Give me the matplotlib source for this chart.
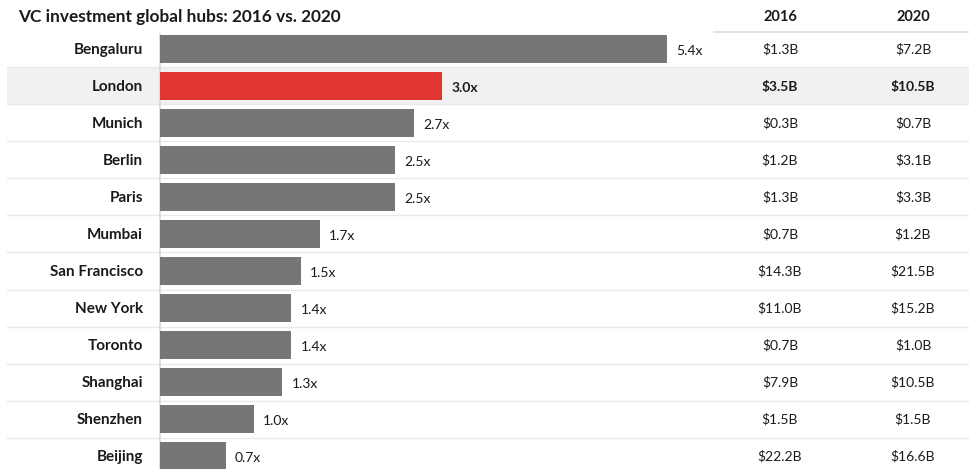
import matplotlib
matplotlib.use("Agg")
import matplotlib.pyplot as plt
from matplotlib.transforms import blended_transform_factory

plt.rcParams['font.family'] = ['Lato', 'DejaVu Sans']

cities = ["Bengaluru", "London", "Munich", "Berlin", "Paris", "Mumbai",
          "San Francisco", "New York", "Toronto", "Shanghai", "Shenzhen", "Beijing"]
growth = [5.4, 3.0, 2.7, 2.5, 2.5, 1.7, 1.5, 1.4, 1.4, 1.3, 1.0, 0.7]
inv_2016 = ["$1.3B", "$3.5B", "$0.3B", "$1.2B", "$1.3B", "$0.7B",
            "$14.3B", "$11.0B", "$0.7B", "$7.9B", "$1.5B", "$22.2B"]
inv_2020 = ["$7.2B", "$10.5B", "$0.7B", "$3.1B", "$3.3B", "$1.2B",
            "$21.5B", "$15.2B", "$1.0B", "$10.5B", "$1.5B", "$16.6B"]
col_headers = ["2016", "2020"]
title = "VC investment global hubs: 2016 vs. 2020"
highlight = "London"

W, H = 969, 469
fig = plt.figure(figsize=(W / 100, H / 100), dpi=100)
ax = fig.add_axes([0, 0, 1, 1])

x0_px = 160.0
px_per_unit = 93.9
row0_px = 49.0
row_px = 37.0
ax.set_xlim(-x0_px / px_per_unit, (W - x0_px) / px_per_unit)
ax.set_ylim((H - row0_px) / row_px, -row0_px / row_px)
ax.axis("off")

fx = blended_transform_factory(fig.transFigure, ax.transData)
txtc = "#1a1a1a"
gray = "#767676"
red = "#e03530"

n = len(cities)
ypos = list(range(n))

# highlight band and separators
for i, c in enumerate(cities):
    if c == highlight:
        ax.axhspan(i - 0.5, i + 0.5, xmin=7 / W, xmax=1, color="#f1f1f1", zorder=0, lw=0)
for i in range(n - 1):
    ax.plot([7 / W, 1], [i + 0.5, i + 0.5], transform=fx, color="#e9e9e9", lw=1, zorder=0.5)

# header underline
ax.plot([714 / W, 1], [-0.46, -0.46], transform=fx, color="#dcdcdc", lw=1.2, zorder=1)

# axis line
ax.plot([0, 0], [-0.4, n], color="#d8d8d8", lw=1.2, zorder=1)

colors = [red if c == highlight else gray for c in cities]
ax.barh(ypos, growth, height=0.78, color=colors, zorder=2)

for i, (c, g, a, b) in enumerate(zip(cities, growth, inv_2016, inv_2020)):
    bold = "bold" if c == highlight else "normal"
    ax.text(143 / W, i + 0.02, c, transform=fx, ha="right", va="center",
            fontsize=11, fontweight="bold", color=txtc)
    ax.text(g + 0.1, i + 0.06, f"{g:.1f}x", ha="left", va="center",
            fontsize=10, fontweight=bold, color=txtc)
    ax.text(780 / W, i + 0.02, a, transform=fx, ha="center", va="center",
            fontsize=10, fontweight=bold, color=txtc)
    ax.text(913 / W, i + 0.02, b, transform=fx, ha="center", va="center",
            fontsize=10, fontweight=bold, color=txtc)

ax.text(780 / W, -0.87, col_headers[0], transform=fx, ha="center", va="center",
        fontsize=10.5, fontweight="bold", color=txtc)
ax.text(913 / W, -0.87, col_headers[1], transform=fx, ha="center", va="center",
        fontsize=10.5, fontweight="bold", color=txtc)

fig.text(18 / W, 1 - 17 / H, title, ha="left", va="center",
         fontsize=12.4, fontweight="bold", color=txtc)

fig.savefig("out.png", dpi=100)
